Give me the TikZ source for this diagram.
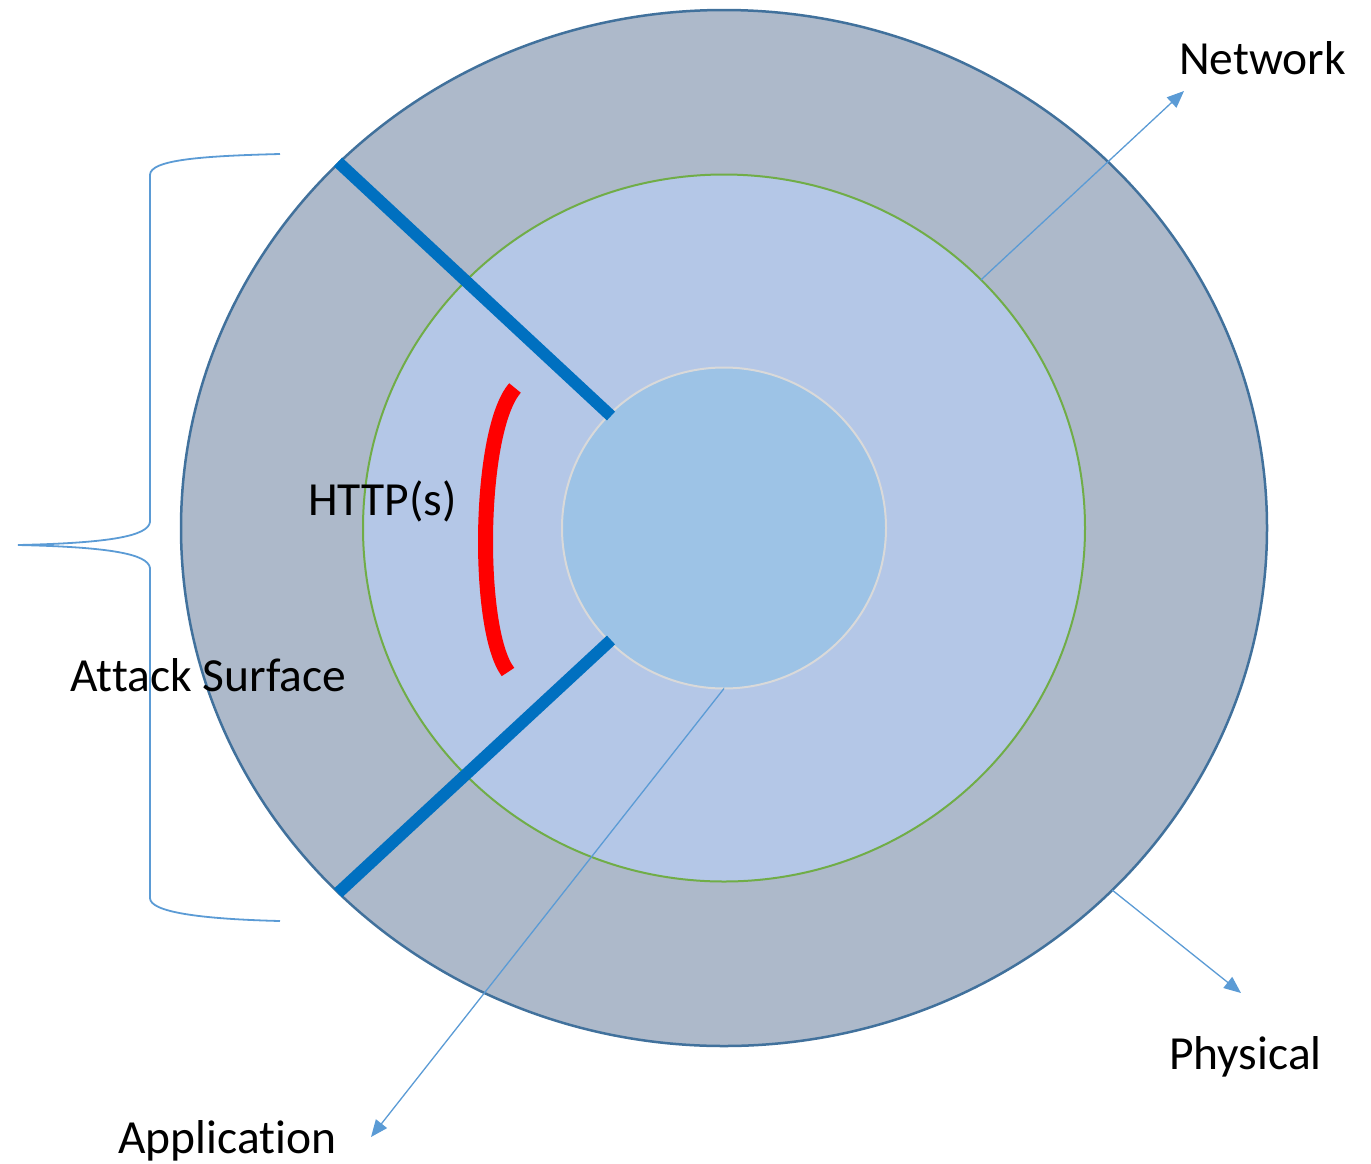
\documentclass[tikz,border=0pt]{standalone}
\usepackage{fontspec}
\setmainfont{Carlito}[Ligatures={NoCommon}]
\usetikzlibrary{shapes.geometric,arrows.meta}

\definecolor{ringfill}{HTML}{ADB9CA}
\definecolor{ringedge}{HTML}{41719C}
\definecolor{midfill}{HTML}{B4C7E7}
\definecolor{midedge}{HTML}{70AD47}
\definecolor{corefill}{HTML}{9DC3E6}
\definecolor{coreedge}{HTML}{D9D9D9}
\definecolor{cutline}{HTML}{0070C0}
\definecolor{pointer}{HTML}{5B9BD5}

\tikzset{
  layer/.style={ellipse, inner sep=0pt, outer sep=0pt},
  pointerline/.style={draw=pointer, line width=1.3pt,
    -{Triangle[length=17pt,width=14pt]}},
  label/.style={inner sep=0pt, anchor=base west,
    font=\fontsize{47.5}{57}\selectfont},
  cutter/.style={draw=cutline, line width=12pt},
  bracestyle/.style={draw=pointer, line width=1.8pt},
}

\begin{document}
\begin{tikzpicture}[x=1pt,y=-1pt]
  \useasboundingbox (0,0) rectangle (1371,1163);

  % nested layers
  \node[layer, fill=ringfill, draw=ringedge, line width=2.5pt,
        minimum width=1086pt, minimum height=1036pt] (outer) at (724,528) {};
  \node[layer, fill=midfill, draw=midedge, line width=2pt,
        minimum width=722pt, minimum height=707pt] (mid) at (724,528) {};
  \node[layer, fill=corefill, draw=coreedge, line width=2pt,
        minimum width=324pt, minimum height=321pt] (core) at (724,528) {};

  % wedge cut into the layers
  \coordinate (cutA1) at (338,162);
  \coordinate (cutA2) at (611,416);
  \coordinate (cutB1) at (611,640);
  \coordinate (cutB2) at (338,893);
  \draw[cutter] (cutA1) -- (cutA2);
  \draw[cutter] (cutB1) -- (cutB2);

  % HTTP(s) arc
  \coordinate (arcTop) at (515,388);
  \coordinate (arcBot) at (508,672);
  \draw[red, line width=15pt] (arcTop) .. controls (478,430) and (476,630) .. (arcBot);

  % layer pointers
  \coordinate (netTip) at (1184,91);
  \coordinate (phyTip) at (1241,993);
  \coordinate (appTip) at (371,1137);
  \draw[pointerline] (mid.44.4) -- (netTip);
  \draw[pointerline] (outer.-43.7) -- (phyTip);
  \draw[pointerline] (core.-90) -- (appTip);

  % brace for the attack surface
  \coordinate (brTop) at (280,154);
  \coordinate (brTip) at (18,545);
  \coordinate (brBot) at (280,921);
  \draw[bracestyle] (brTop) .. controls (200,156) and (150,160) .. (150,175)
    -- (150,522) .. controls (148,536) and (110,543) .. (brTip)
    .. controls (110,547) and (148,554) .. (150,568)
    -- (150,898) .. controls (150,912) and (200,919) .. (brBot);

  % labels
  \node[label] (tNet) at (1179,74) {Network};
  \node[label] (tPhy) at (1169,1069) {Physical};
  \node[label] (tApp) at (118,1153) {Application};
  \node[label] (tAtk) at (70,691) {At\kern0pt tack Surface};
  \node[label] (tHttp) at (308,515) {HTTP(s)};
\end{tikzpicture}
\end{document}
